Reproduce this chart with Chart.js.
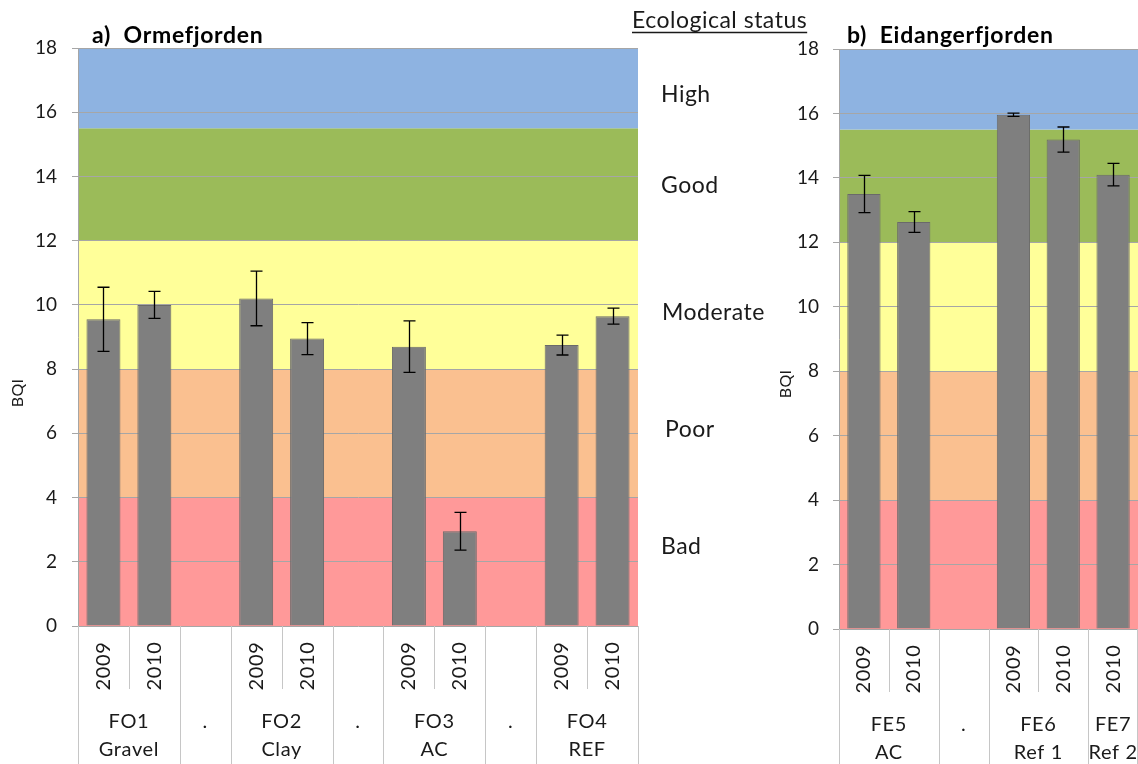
<!DOCTYPE html>
<html>
<head>
<meta charset="utf-8">
<script src="https://cdn.jsdelivr.net/npm/chart.js@4.4.1/dist/chart.umd.min.js"></script>
<style>
  html, body { margin: 0; padding: 0; background: #fff; overflow: hidden; width: 1138px; height: 764px; }
  #wrap { position: relative; width: 1138px; height: 764px; }
  canvas { position: absolute; top: 0; }
  #ormeCanvas { left: 0; z-index: 1; }
  #eidCanvas { left: 760px; z-index: 2; }
</style>
</head>
<body>
<div id="wrap">
  <canvas id="ormeCanvas" width="830" height="764"></canvas>
  <canvas id="eidCanvas" width="378" height="764"></canvas>
</div>
<script>
// ---- Ormefjorden: BQI per station and year (mean and standard deviation)
const ormeYears     = ['2009', '2010', '', '2009', '2010', '', '2009', '2010', '', '2009', '2010'];
const ormeSites     = ['FO1', 'FO1', '.', 'FO2', 'FO2', '.', 'FO3', 'FO3', '.', 'FO4', 'FO4'];
const ormeSiteTypes = ['Gravel', 'Gravel', '', 'Clay', 'Clay', '', 'AC', 'AC', '', 'REF', 'REF'];
const ormeBQI       = [9.55, 10.0, null, 10.2, 8.95, null, 8.7, 2.95, null, 8.75, 9.65];
const ormeSD        = [1.0, 0.42, null, 0.85, 0.5, null, 0.8, 0.59, null, 0.31, 0.25];

// ---- Eidangerfjorden
const eidYears      = ['2009', '2010', '', '2009', '2010', '2010'];
const eidSites      = ['FE5', 'FE5', '.', 'FE6', 'FE6', 'FE7'];
const eidSiteTypes  = ['AC', 'AC', '', 'Ref 1', 'Ref 1', 'Ref 2'];
const eidBQI        = [13.5, 12.63, null, 15.96, 15.19, 14.1];
const eidSD         = [0.58, 0.32, null, 0.05, 0.39, 0.35];

// ---- BQI axis ticks and ecological status classes
const bqiTicks      = [0, 2, 4, 6, 8, 10, 12, 14, 16, 18];
const statusNames   = ['Bad', 'Poor', 'Moderate', 'Good', 'High'];
const statusLimits  = [0, 4, 8, 12, 15.5, 18];

// ---- styling
const statusColors  = ['#ff9999', '#fac090', '#ffff99', '#9bbb59', '#8eb3e1'];
const statusLabelAt = [2.25, 5.88, 9.54, 13.5, 16.33];   // label baselines, in BQI units
const statusLabelDx = [23, 27, 24, 23, 23];
const FONT = 'Lato, "Open Sans", sans-serif';
const INK = '#1a1a1a';
const GRID = '#a6a6a6';
const SEP = '#c6c6c6';

function spaced(ctx, px) {
  if ('letterSpacing' in ctx) ctx.letterSpacing = px + 'px';
}

function fjordPlugin(cfg) {
  return {
    id: 'fjord',
    beforeDraw(chart) {
      const { ctx, chartArea: a, scales: { y } } = chart;
      ctx.save();
      for (let i = 0; i < statusColors.length; i++) {
        const top = y.getPixelForValue(statusLimits[i + 1]);
        const bot = y.getPixelForValue(statusLimits[i]);
        ctx.fillStyle = statusColors[i];
        ctx.fillRect(a.left, top, a.right - a.left, bot - top);
      }
      ctx.restore();
    },
    afterDatasetsDraw(chart) {
      const { ctx, scales: { y } } = chart;
      const meta = chart.getDatasetMeta(0);
      ctx.save();
      ctx.strokeStyle = '#000';
      ctx.lineWidth = 1.3;
      cfg.values.forEach((v, i) => {
        if (v == null) return;
        const x = Math.round(meta.data[i].x) + 0.5;
        const hi = y.getPixelForValue(v + cfg.sd[i]);
        const lo = y.getPixelForValue(v - cfg.sd[i]);
        ctx.beginPath();
        ctx.moveTo(x, hi); ctx.lineTo(x, lo);
        ctx.moveTo(x - 6, hi); ctx.lineTo(x + 6, hi);
        ctx.moveTo(x - 6, lo); ctx.lineTo(x + 6, lo);
        ctx.stroke();
      });
      ctx.restore();
    },
    afterDraw(chart) {
      const { ctx, chartArea: a, scales: { x, y } } = chart;
      const n = cfg.years.length;
      const w = (a.right - a.left) / n;
      const H = chart.height;
      ctx.save();

      // grouped category axis: separators
      ctx.strokeStyle = SEP;
      ctx.lineWidth = 1;
      for (let i = 0; i <= n; i++) {
        const px = Math.min(Math.round(a.left + i * w), chart.width - 1) + 0.5;
        const full = i === 0 || i === n || cfg.sites[i - 1] !== cfg.sites[i];
        ctx.beginPath();
        ctx.moveTo(px, a.bottom);
        ctx.lineTo(px, full ? H : a.bottom + 63);
        ctx.stroke();
      }

      // year labels (rotated)
      ctx.fillStyle = INK;
      ctx.font = '20px ' + FONT;
      spaced(ctx, 0.6);
      ctx.textAlign = 'center';
      ctx.textBaseline = 'middle';
      cfg.years.forEach((yr, i) => {
        if (!yr) return;
        ctx.save();
        ctx.translate(x.getPixelForValue(i), a.bottom + 40);
        ctx.rotate(-Math.PI / 2);
        ctx.fillText(yr, 0, 0);
        ctx.restore();
      });

      // station labels, one per run of equal station codes
      let start = 0;
      for (let i = 1; i <= n; i++) {
        if (i === n || cfg.sites[i] !== cfg.sites[start]) {
          const cx = (x.getPixelForValue(start) + x.getPixelForValue(i - 1)) / 2;
          ctx.fillText(cfg.sites[start], cx, a.bottom + 96);
          if (cfg.types[start]) ctx.fillText(cfg.types[start], cx, a.bottom + 124);
          start = i;
        }
      }

      // y-axis title
      ctx.save();
      spaced(ctx, 0.3);
      ctx.font = '16px ' + FONT;
      ctx.translate(cfg.bqiX, cfg.bqiY);
      ctx.rotate(-Math.PI / 2);
      ctx.fillText('BQI', 0, 0);
      ctx.restore();

      // panel title
      ctx.font = 'bold 23px ' + FONT;
      spaced(ctx, 0.7);
      ctx.textAlign = 'left';
      ctx.textBaseline = 'alphabetic';
      ctx.fillStyle = '#000';
      ctx.fillText(cfg.title, a.left + cfg.titleDx, 43);

      // status class labels beside the panel
      if (cfg.statusLabels) {
        ctx.fillStyle = INK;
        ctx.font = '23px ' + FONT;
        spaced(ctx, 0.5);
        statusNames.forEach((name, i) => {
          ctx.fillText(name, a.right + statusLabelDx[i], y.getPixelForValue(statusLabelAt[i]));
        });
        const head = 'Ecological status';
        const hx = a.right - 6;
        ctx.fillText(head, hx, 28);
        const tw = ctx.measureText(head).width;
        ctx.strokeStyle = INK;
        ctx.lineWidth = 1.5;
        ctx.beginPath();
        ctx.moveTo(hx, 32.5); ctx.lineTo(hx + tw, 32.5);
        ctx.stroke();
      }
      ctx.restore();
    }
  };
}

function makeChart(id, cfg) {
  return new Chart(document.getElementById(id), {
    type: 'bar',
    data: {
      labels: cfg.years.map((yr, i) => cfg.sites[i] + ' ' + yr),
      datasets: [{
        data: cfg.values,
        backgroundColor: '#7f7f7f',
        borderColor: '#6a6a6a',
        borderWidth: 1,
        barPercentage: 0.667,
        categoryPercentage: 1
      }]
    },
    options: {
      responsive: false,
      animation: false,
      devicePixelRatio: 1,
      layout: { padding: { top: cfg.top, right: cfg.padRight, left: 0, bottom: 0 } },
      plugins: { legend: { display: false }, tooltip: { enabled: false }, title: { display: false } },
      scales: {
        x: {
          ticks: { display: false },
          grid: { display: false },
          border: { display: false },
          afterFit(s) { s.height = cfg.axisHeight; }
        },
        y: {
          min: 0, max: 18,
          afterBuildTicks(s) { s.ticks = bqiTicks.map(v => ({ value: v })); },
          ticks: { font: { family: FONT, size: 19 }, color: INK, padding: cfg.tickPad },
          grid: { color: GRID, tickLength: 6 },
          border: { color: GRID },
          afterFit(s) { s.width = cfg.axisWidth; }
        }
      }
    },
    plugins: [fjordPlugin(cfg)]
  });
}

makeChart('ormeCanvas', {
  title: 'a)  Ormefjorden', titleDx: 14,
  years: ormeYears, sites: ormeSites, types: ormeSiteTypes,
  values: ormeBQI, sd: ormeSD,
  top: 48, padRight: 192, axisHeight: 138, axisWidth: 78, tickPad: 15,
  bqiX: 18, bqiY: 393, statusLabels: true
});

makeChart('eidCanvas', {
  title: 'b)  Eidangerfjorden', titleDx: 8,
  years: eidYears, sites: eidSites, types: eidSiteTypes,
  values: eidBQI, sd: eidSD,
  top: 49, padRight: 0, axisHeight: 135, axisWidth: 79, tickPad: 14,
  bqiX: 26, bqiY: 384, statusLabels: false
});
</script>
</body>
</html>
